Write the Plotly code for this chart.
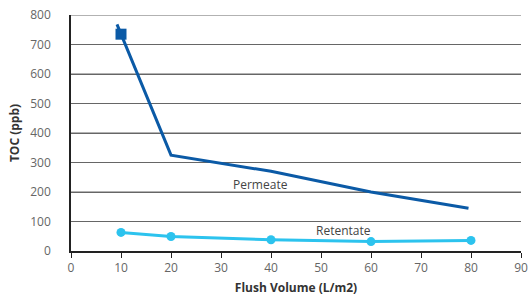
import plotly.graph_objects as go

# Data
permeate_x = [9.2, 20, 40, 60, 79.5]
permeate_y = [768, 325, 270, 200, 145]
permeate_marker_x = [10]
permeate_marker_y = [735]
retentate_x = [10, 20, 40, 60, 80]
retentate_y = [63, 49, 38, 32, 36]
x_ticks = [0, 10, 20, 30, 40, 50, 60, 70, 80, 90]
y_ticks = [0, 100, 200, 300, 400, 500, 600, 700, 800]

dark = "#0B5AA6"
light = "#2CC3EE"

fig = go.Figure()
fig.add_trace(go.Scatter(x=permeate_x, y=permeate_y, mode="lines",
                         line=dict(color=dark, width=3), showlegend=False,
                         cliponaxis=False))
fig.add_trace(go.Scatter(x=permeate_marker_x, y=permeate_marker_y, mode="markers",
                         marker=dict(symbol="square", size=11, color=dark),
                         showlegend=False, cliponaxis=False))
fig.add_trace(go.Scatter(x=retentate_x, y=retentate_y, mode="lines+markers",
                         line=dict(color=light, width=3),
                         marker=dict(size=9, color=light), showlegend=False,
                         cliponaxis=False))

fig.add_annotation(x=37.8, y=225, text="Permeate", showarrow=False,
                   font=dict(size=12, color="#444"))
fig.add_annotation(x=54.4, y=68, text="Retentate", showarrow=False,
                   font=dict(size=12, color="#444"))

# horizontal gridlines at each y tick (drawn below the data)
for v in y_ticks[1:]:
    fig.add_shape(type="line", xref="paper", yref="y", x0=0, x1=1, y0=v, y1=v,
                  line=dict(color="#666666", width=1), layer="below")

fig.update_layout(
    template="none",
    width=530, height=305,
    margin=dict(l=71, r=9, t=15, b=54),
    paper_bgcolor="white", plot_bgcolor="white",
    font=dict(family="Open Sans, Lato, sans-serif", color="#555", size=12),
    xaxis=dict(range=[0, 90], tickvals=x_ticks, showgrid=False,
               showline=True, linecolor="#222", linewidth=1.5,
               ticks="outside", ticklen=5, tickcolor="#222", tickwidth=1,
               tickfont=dict(size=12, color="#666"),
               title=dict(text="<b>Flush Volume (L/m2)</b>",
                          font=dict(size=12, color="#333"), standoff=8),
               zeroline=False, fixedrange=True, automargin=False),
    yaxis=dict(range=[0, 800], tickvals=y_ticks, showgrid=True,
               gridcolor="#666666", gridwidth=1,
               showline=True, linecolor="#222", linewidth=1.5,
               ticks="outside", ticklen=16, tickcolor="rgba(0,0,0,0)",
               tickfont=dict(size=12, color="#666"),
               title=dict(text="<b>TOC (ppb)</b>",
                          font=dict(size=12, color="#333"), standoff=8),
               zeroline=False, fixedrange=True, automargin=False),
)

fig.write_html("out.html", config={"displayModeBar": False},
               post_script="document.body.style.margin='0';document.body.style.overflow='hidden';")
